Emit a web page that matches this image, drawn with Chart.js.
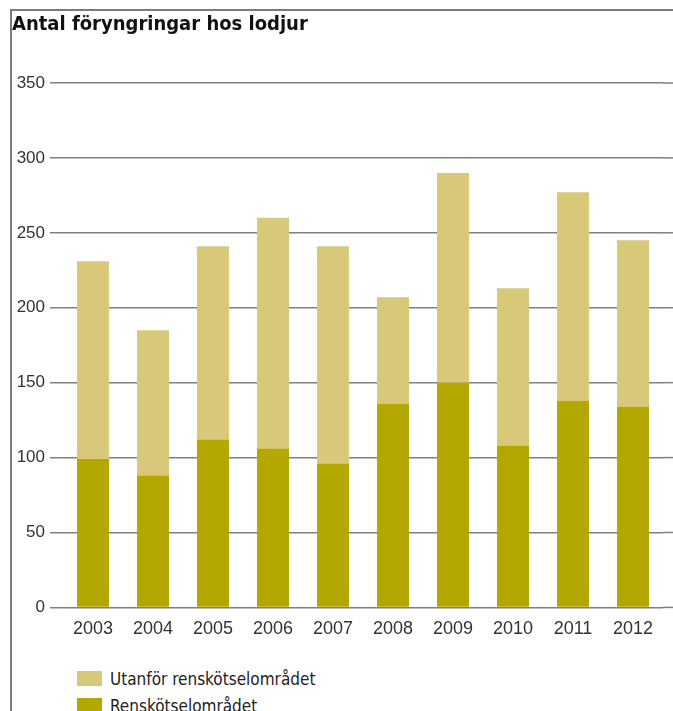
<!DOCTYPE html>
<html>
<head>
<meta charset="utf-8">
<script src="https://cdn.jsdelivr.net/npm/chart.js@4/dist/chart.umd.min.js"></script>
<style>
  body { margin: 0; background: #fff; }
  #frame { position: absolute; left: 10px; top: 9px; width: 663px; height: 702px;
           border-top: 2px solid #7b7b7b; border-left: 2px solid #7b7b7b; }
  #wrap { position: absolute; left: 0; top: 0; width: 673px; height: 663px; }
  #legend { position: absolute; left: 77px; top: 665px; font-family: "Liberation Sans Narrow", "DejaVu Sans Condensed", sans-serif;
            font-size: 17px; color: #222; }
  .item { display: flex; align-items: center; height: 27px; }
  .box { width: 25px; height: 15px; margin-right: 8px; }
</style>
</head>
<body>
<div id="frame"></div>
<div id="wrap"><canvas id="chart"></canvas></div>
<div id="legend"></div>
<script>
const years = ['2003', '2004', '2005', '2006', '2007', '2008', '2009', '2010', '2011', '2012'];
const renskotsel = [99, 88, 112, 106, 96, 136, 150, 108, 138, 134];
const utanfor = [132, 97, 129, 154, 145, 71, 140, 105, 139, 111];

const seriesNames = ['Renskötselområdet', 'Utanför renskötselområdet'];
const seriesColors = ['#b4a700', '#d7c979'];

// gridlines run on to the right edge of the picture
const gridExtend = {
  id: 'gridExtend',
  afterDraw(chart) {
    const { ctx, chartArea, scales } = chart;
    ctx.save();
    ctx.strokeStyle = '#808080';
    ctx.lineWidth = 1.5;
    for (const t of scales.y.ticks) {
      const y = scales.y.getPixelForValue(t.value);
      ctx.beginPath();
      ctx.moveTo(chartArea.right, y);
      ctx.lineTo(chart.width, y);
      ctx.stroke();
    }
    ctx.restore();
  }
};

const chart = new Chart(document.getElementById('chart'), {
  type: 'bar',
  data: {
    labels: years,
    datasets: [
      { label: seriesNames[0], data: renskotsel, backgroundColor: seriesColors[0] },
      { label: seriesNames[1], data: utanfor, backgroundColor: seriesColors[1] }
    ]
  },
  options: {
    responsive: true,
    maintainAspectRatio: false,
    animation: false,
    barPercentage: 0.533,
    categoryPercentage: 1,
    layout: { padding: { left: 12, top: 10, right: 10, bottom: 12 } },
    plugins: {
      legend: { display: false },
      tooltip: { enabled: false },
      title: {
        display: true,
        text: 'Antal föryngringar hos lodjur',
        align: 'start',
        color: '#111',
        font: { family: '"Liberation Sans Narrow", "DejaVu Sans Condensed", sans-serif', size: 20, weight: 'bold' },
        padding: { top: 3, bottom: 46 }
      }
    },
    scales: {
      x: {
        stacked: true,
        grid: { display: false, drawTicks: false },
        border: { display: false },
        ticks: { color: '#333', padding: 11, font: { family: '"Liberation Sans", Arial, sans-serif', size: 18 } }
      },
      y: {
        stacked: true,
        min: 0,
        max: 350,
        afterFit(scale) { scale.width = 51; },
        grid: { color: '#808080', lineWidth: 1.5, tickLength: 13, tickColor: '#808080' },
        border: { display: false },
        ticks: { stepSize: 50, color: '#333', padding: 5, font: { family: '"Liberation Sans", Arial, sans-serif', size: 17 } }
      }
    }
  },
  plugins: [gridExtend]
});

const legend = document.getElementById('legend');
chart.data.datasets.slice().reverse().forEach(ds => {
  const item = document.createElement('div');
  item.className = 'item';
  const box = document.createElement('span');
  box.className = 'box';
  box.style.background = ds.backgroundColor;
  const label = document.createElement('span');
  label.textContent = ds.label;
  item.appendChild(box);
  item.appendChild(label);
  legend.appendChild(item);
});
</script>
</body>
</html>
